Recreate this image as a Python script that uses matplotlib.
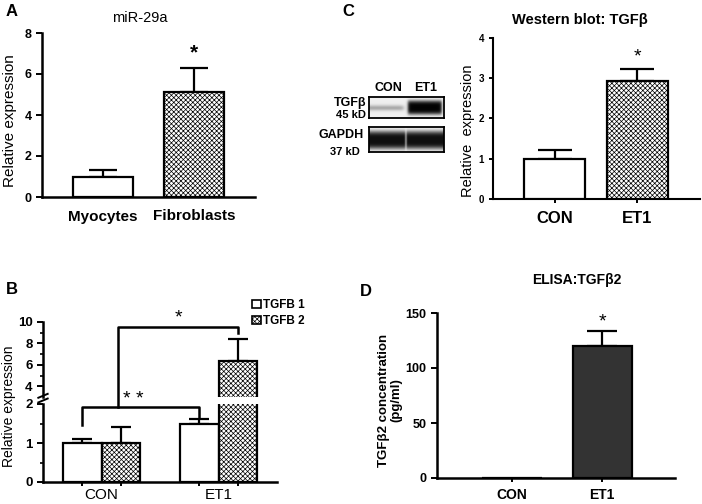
import numpy as np
import matplotlib
matplotlib.use('Agg')
import matplotlib.pyplot as plt
from matplotlib.patches import Patch, Rectangle
from matplotlib.lines import Line2D

plt.rcParams['font.family'] = ['Liberation Sans', 'DejaVu Sans']
plt.rcParams['hatch.linewidth'] = 0.5

# ---------------- data ----------------
a_categories = ['Myocytes', 'Fibroblasts']
a_values = [1.0, 5.1]
a_errors = [0.3, 1.2]

c_categories = ['CON', 'ET1']
c_values = [1.0, 2.93]
c_errors = [0.22, 0.3]

b_groups = ['CON', 'ET1']
b_series = ['TGFB 1', 'TGFB 2']
b_tgfb1 = [1.0, 1.48]
b_tgfb1_err = [0.1, 0.13]
b_tgfb2 = [1.0, 6.4]
b_tgfb2_err = [0.4, 2.05]

d_categories = ['CON', 'ET1']
d_values = [0.0, 120.0]
d_errors = [0.0, 13.5]

W, H = 702, 504
fig = plt.figure(figsize=(W / 100, H / 100), dpi=100)


def axes_px(x0, y0, x1, y1):
    return fig.add_axes([x0 / W, 1 - y1 / H, (x1 - x0) / W, (y1 - y0) / H])


def style(ax, lw=1.8):
    for s in ('top', 'right'):
        ax.spines[s].set_visible(False)
    for s in ('left', 'bottom'):
        ax.spines[s].set_linewidth(lw)
    ax.tick_params(direction='out', width=1.4, length=4)


def ftext(x, y, s, **kw):
    fig.text(x / W, 1 - y / H, s, **kw)


HATCH = 'xxxxxxx'
BLW = 1.6

# ---------------- panel A ----------------
axA = axes_px(42, 33, 255, 197)
style(axA)
xa = np.arange(len(a_categories))
axA.bar(xa, a_values, 0.65, color=['white', 'white'], edgecolor='black',
        linewidth=BLW, hatch=[None, HATCH], zorder=3)
axA.errorbar(xa, a_values, yerr=[np.zeros(len(xa)), a_errors], fmt='none',
             ecolor='black', elinewidth=1.6, capsize=10.4, capthick=1.6, zorder=2)
axA.set_xlim(-0.67, 1.67)
axA.set_ylim(0, 8)
axA.set_yticks([0, 2, 4, 6, 8])
axA.set_xticks(xa)
axA.set_xticklabels(a_categories, fontsize=11, fontweight='bold')
axA.tick_params(axis='x', length=0, pad=9)
for t in axA.get_yticklabels():
    t.set_fontweight('bold'); t.set_fontsize(9)
axA.text(1, a_values[1] + a_errors[1] + 0.25, '*', ha='center', va='bottom',
         fontsize=15, fontweight='bold')
ftext(140, 18, 'miR-29a', ha='center', va='center', fontsize=10.5)
ftext(10, 121, 'Relative expression', ha='center', va='center', rotation=90, fontsize=11)
ftext(12, 12, 'A', ha='center', va='center', fontsize=12, fontweight='bold')

# ---------------- panel C ----------------
axC = axes_px(493, 38, 700, 199)
style(axC, 1.5)
xc = np.arange(len(c_categories))
axC.bar(xc, c_values, 0.74, color='white', edgecolor='black', linewidth=BLW,
        hatch=[None, HATCH], zorder=3)
axC.errorbar(xc, c_values, yerr=[np.zeros(len(xc)), c_errors], fmt='none',
             ecolor='black', elinewidth=1.6, capsize=12, capthick=1.6, zorder=2)
axC.set_xlim(-0.745, 1.76)
axC.set_ylim(0, 4)
axC.set_yticks([0, 1, 2, 3, 4])
axC.set_xticks(xc)
axC.set_xticklabels(c_categories, fontsize=12, fontweight='bold')
axC.tick_params(axis='x', length=3, pad=6)
axC.tick_params(axis='y', length=3, labelsize=7)
for t in axC.get_yticklabels():
    t.set_fontweight('bold')
axC.text(1, c_values[1] + c_errors[1] + 0.08, '*', ha='center', va='bottom',
         fontsize=14)
ftext(580, 20, 'Western blot: TGF\u03b2', ha='center', va='center', fontsize=10.5,
      fontweight='bold')
ftext(468, 131, 'Relative  expression', ha='center', va='center', rotation=90,
      fontsize=10.5)
ftext(348, 12, 'C', ha='center', va='center', fontsize=12, fontweight='bold')

# western blot image (drawn)
def lane_mask(xx, a, b, soft=0.015):
    return 0.5 * (np.tanh((xx - a) / soft) - np.tanh((xx - b) / soft))


yy, xx = np.mgrid[0:1:84j, 0:1:300j]
tgf = 0.28 * lane_mask(xx, -0.1, 0.46, 0.03) * np.exp(-((yy - 0.52) / 0.13) ** 2)
tgf += 0.93 * lane_mask(xx, 0.52, 0.97, 0.02) * np.exp(-((yy - 0.5) / 0.34) ** 4)
tgf += 0.06
axBl1 = axes_px(369, 97, 444, 118)
axBl1.imshow(np.clip(tgf, 0, 1), cmap='gray_r', vmin=0, vmax=1, aspect='auto',
             interpolation='bilinear')
gap = lane_mask(xx, -0.1, 0.485, 0.01) + lane_mask(xx, 0.5, 1.1, 0.01)
gapd = 0.88 * np.clip(gap, 0, 1) * np.exp(-((yy - 0.52) / 0.36) ** 4) + 0.06
axBl2 = axes_px(369, 127, 444, 152)
axBl2.imshow(np.clip(gapd, 0, 1), cmap='gray_r', vmin=0, vmax=1, aspect='auto',
             interpolation='bilinear')
for axb in (axBl1, axBl2):
    axb.set_xticks([]); axb.set_yticks([])
    for s in axb.spines.values():
        s.set_linewidth(1.3)
ftext(388, 88, 'CON', ha='center', va='center', fontsize=9, fontweight='bold')
ftext(426, 88, 'ET1', ha='center', va='center', fontsize=9, fontweight='bold')
ftext(366, 103, 'TGF\u03b2', ha='right', va='center', fontsize=9, fontweight='bold')
ftext(366, 115, '45 kD', ha='right', va='center', fontsize=8, fontweight='bold')
ftext(364, 135, 'GAPDH', ha='right', va='center', fontsize=9, fontweight='bold')
ftext(360, 152, '37 kD', ha='right', va='center', fontsize=8, fontweight='bold')

# ---------------- panel B (broken axis) ----------------
axBlow = axes_px(43, 404, 277, 482)
axBup = axes_px(43, 322, 277, 397)
axBup.patch.set_visible(False)
xg = np.arange(len(b_groups))
bw = 0.325
for ax in (axBlow, axBup):
    style(ax, 1.8)
    ax.bar(xg - bw / 2, b_tgfb1, bw, color='white', edgecolor='black', linewidth=BLW,
           zorder=3)
    ax.bar(xg + bw / 2, b_tgfb2, bw, color='white', edgecolor='black', linewidth=BLW,
           hatch=HATCH, zorder=3)
    ax.errorbar(xg - bw / 2, b_tgfb1, yerr=[np.zeros(2), b_tgfb1_err], fmt='none',
                ecolor='black', elinewidth=1.6, capsize=7, capthick=1.6, zorder=2)
    ax.errorbar(xg + bw / 2, b_tgfb2, yerr=[np.zeros(2), b_tgfb2_err], fmt='none',
                ecolor='black', elinewidth=1.6, capsize=7, capthick=1.6, zorder=2)
    ax.set_xlim(-0.5, 1.5)
axBlow.set_ylim(0, 2)
axBlow.set_yticks([0, 1, 2])
axBlow.set_yticks([0.5, 1.5], minor=True)
axBlow.tick_params(axis='y', which='minor', length=2.5, width=1.2, direction='out')
axBlow.set_xticks(np.concatenate([xg - bw / 2, xg + bw / 2]))
axBlow.set_xticklabels([])
axBlow.set_xticks(xg, minor=True)
axBlow.set_xticklabels(b_groups, minor=True, fontsize=11)
axBlow.tick_params(axis='x', which='minor', length=0, pad=4)
axBlow.tick_params(axis='x', which='major', length=3)
axBup.set_ylim(3, 10)
axBup.set_yticks([4, 6, 8, 10])
axBup.set_yticks([5, 7, 9], minor=True)
axBup.tick_params(axis='y', which='minor', length=2.5, width=1.2, direction='out')
axBup.spines['bottom'].set_visible(False)
axBup.set_xticks([])
for ax in (axBlow, axBup):
    for t in ax.get_yticklabels():
        t.set_fontweight('bold'); t.set_fontsize(9.5)
# axis break marks
for yo in (0.0, 0.06):
    axBlow.plot([-0.02, 0.02], [1.02 + yo, 1.07 + yo], transform=axBlow.transAxes,
                color='black', lw=1.4, clip_on=False)


def fig_line(points, **kw):
    inv = fig.transFigure.inverted()
    pts = [inv.transform(ax.transData.transform((x, y))) for ax, x, y in points]
    fig.add_artist(Line2D([p[0] for p in pts], [p[1] for p in pts],
                          transform=fig.transFigure, **kw))


fig_line([(axBlow, -bw / 2, 1.46), (axBlow, -bw / 2, 1.93),
          (axBlow, 1 - bw / 2, 1.93), (axBlow, 1 - bw / 2, 1.67)],
         color='black', lw=1.8)
fig_line([(axBlow, 0.145, 1.93), (axBup, 0.145, 9.53),
          (axBup, 1 + bw / 2, 9.53), (axBup, 1 + bw / 2, 8.95)],
         color='black', lw=1.8)
ftext(133, 399, '* *', ha='center', va='center', fontsize=14, zorder=10)
axBup.text(0.66, 9.55, '*', ha='center', va='bottom', fontsize=14)
fig.legend(handles=[Patch(facecolor='white', edgecolor='black', linewidth=1.2),
                    Patch(facecolor='white', edgecolor='black', linewidth=1.2,
                          hatch=HATCH)],
           labels=b_series, loc='upper left', bbox_to_anchor=(252 / W, 1 - 299 / H),
           frameon=False, handlelength=0.75, handleheight=0.75, handletextpad=0.15,
           labelspacing=0.35, borderaxespad=0, borderpad=0,
           prop={'weight': 'bold', 'size': 8.5})
ftext(9, 406, 'Relative expression', ha='center', va='center', rotation=90,
      fontsize=10)
ftext(12, 290, 'B', ha='center', va='center', fontsize=12, fontweight='bold')

# ---------------- panel D ----------------
axD = axes_px(437, 313, 675, 478)
style(axD, 1.8)
xd = np.arange(len(d_categories))
axD.bar(xd, d_values, 0.656, color='#333333', edgecolor='black', linewidth=BLW,
        zorder=3)
axD.errorbar(xd[1:], d_values[1:], yerr=[[0], d_errors[1:]], fmt='none',
             ecolor='black', elinewidth=1.6, capsize=10.8, capthick=1.6, zorder=2)
axD.set_xlim(-0.833, 1.81)
axD.set_ylim(0, 150)
axD.set_yticks([0, 50, 100, 150])
axD.set_xticks(xd)
axD.set_xticklabels(d_categories, fontsize=10, fontweight='bold')
axD.tick_params(axis='x', length=3, pad=4)
for t in axD.get_yticklabels():
    t.set_fontweight('bold'); t.set_fontsize(9)
axD.text(1, d_values[1] + d_errors[1] + 1, '*', ha='center', va='bottom', fontsize=14)
ftext(577, 280, 'ELISA:TGF\u03b22', ha='center', va='center', fontsize=10,
      fontweight='bold')
ftext(390, 400, 'TGF\u03b22 concentration\n(pg/ml)', ha='center', va='center',
      rotation=90, fontsize=9.5, fontweight='bold', linespacing=1.05)
ftext(366, 291, 'D', ha='center', va='center', fontsize=12, fontweight='bold')

fig.savefig('out.png', dpi=100)
